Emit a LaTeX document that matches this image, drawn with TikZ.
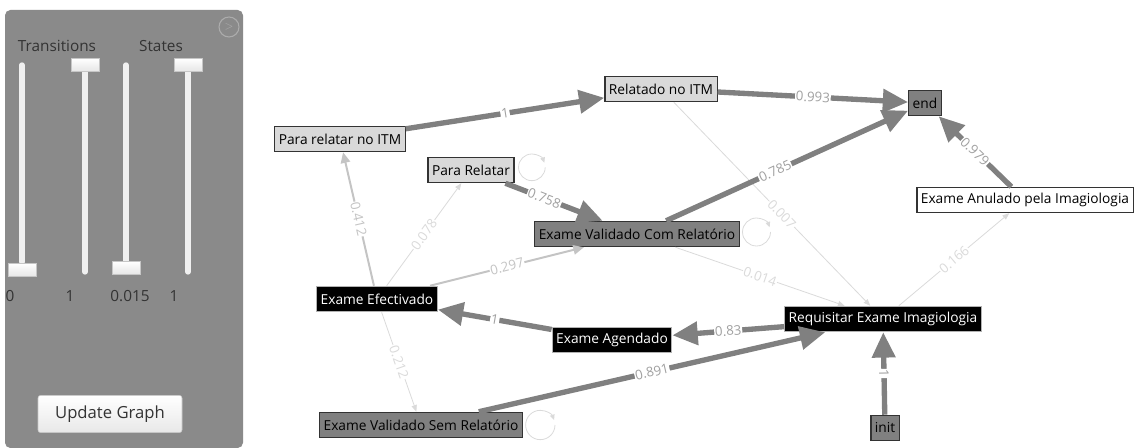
\documentclass[tikz,border=0pt]{standalone}
\usepackage{fontspec}
\setmainfont{Open Sans}
\usetikzlibrary{positioning,arrows.meta}

\definecolor{panelgray}{HTML}{8A8A8A}
\definecolor{edgegray}{HTML}{808080}
\definecolor{lightedge}{HTML}{C4C4C4}
\definecolor{faintedge}{HTML}{DADADA}
\definecolor{labelgray}{HTML}{A0A0A0}
\definecolor{boxlight}{HTML}{D9D9D9}
\definecolor{boxdark}{HTML}{808080}

\begin{document}
\begin{tikzpicture}[x=0.75pt, y=-0.75pt,
  state/.style={draw=black!80, line width=0.9pt, minimum height=19pt, inner xsep=3pt, inner ysep=2pt, font=\fontsize{10.3}{12}\selectfont},
  lightbox/.style={state, fill=boxlight},
  darkbox/.style={state, fill=boxdark},
  blackbox/.style={state, fill=black, draw=gray!60, text=white},
  whitebox/.style={state, fill=white},
  heavy/.style={draw=edgegray, line width=4pt, -{Triangle[length=19pt,width=17pt]}},
  medium/.style={draw=lightedge, line width=1.5pt, -{Triangle[length=8pt,width=7pt]}},
  faint/.style={draw=faintedge, line width=0.6pt, -{Triangle[length=5pt,width=4pt]}},
  elabel/.style={fill=white, inner sep=0.6pt, sloped, font=\fontsize{10}{11}\selectfont, text=labelgray},
  flabel/.style={elabel, text=faintedge},
  selfloop/.style={draw=faintedge, line width=0.6pt, -{Triangle[length=4pt,width=3.5pt]}},
  track/.style={draw=gray!12, line width=4pt, line cap=round},
  thumb/.style={draw=gray!45, top color=white, bottom color=gray!20, minimum width=21pt, minimum height=10pt, inner sep=0pt},
  paneltext/.style={text=black!80, font=\fontsize{11.5}{13}\selectfont},
]
\useasboundingbox (0,0) rectangle (1138,448);
% Panel
\fill[panelgray, rounded corners=4pt] (5,448) -- (5,10) -- (243,10) -- (243,448) -- cycle;
\node[circle, draw=gray!65, line width=0.8pt, minimum size=15pt, inner sep=0pt, text=gray!65, font=\fontsize{8}{8}\selectfont] (collapse) at (229,27) {$>$};
\node[paneltext] (transLabel) at (57,46) {Transitions};
\node[paneltext] (statesLabel) at (161,46) {States};
\draw[track] (22,65) -- (22,262);
\draw[track] (85,70) -- (85,272);
\draw[track] (126,65) -- (126,262);
\draw[track] (188,70) -- (188,272);
\node[thumb] (thumbA) at (22,270) {};
\node[thumb] (thumbB) at (85,65) {};
\node[thumb] (thumbC) at (126,268) {};
\node[thumb] (thumbD) at (188,65) {};
\node[paneltext] (valA) at (10,296) {0};
\node[paneltext] (valB) at (70,296) {1};
\node[paneltext] (valC) at (130,296) {0.015};
\node[paneltext] (valD) at (174,296) {1};
\node[draw=gray!45, rounded corners=2pt, top color=white, bottom color=gray!18, minimum width=108pt, minimum height=28pt, text=black!80, font=\fontsize{12.5}{14}\selectfont] (update) at (110,414) {Update Graph};
% Nodes
\node[lightbox] (relatadoITM) at (661,89) {Relatado no ITM};
\node[darkbox] (end) at (925,103) {end};
\node[lightbox] (paraITM) at (340,139) {Para relatar no ITM};
\node[lightbox] (paraRelatar) at (471,170) {Para Relatar};
\node[darkbox] (validadoCom) at (637,234) {Exame Validado Com Relatório};
\node[whitebox] (anulado) at (1025,200) {Exame Anulado pela Imagiologia};
\node[blackbox] (efectivado) at (377,299) {Exame Efectivado};
\node[blackbox] (agendado) at (612,340) {Exame Agendado};
\node[blackbox] (requisitar) at (883,319) {Requisitar Exame Imagiologia};
\node[darkbox] (validadoSem) at (421,425) {Exame Validado Sem Relatório};
\node[darkbox] (init) at (885,428) {init};
% Lines
\draw[faint] (relatadoITM) -- node[flabel, pos=0.55] {0.007} (requisitar);
\draw[faint] (validadoCom) -- node[flabel] {0.014} (requisitar);
\draw[faint] (requisitar) -- node[flabel] {0.166} (anulado);
\draw[faint] (efectivado) -- node[flabel] {0.078} (paraRelatar);
\draw[faint] (efectivado) -- node[flabel] {0.212} (validadoSem);
\draw[medium] (efectivado) -- node[elabel, text=lightedge] {0.412} (paraITM);
\draw[medium] (efectivado) -- node[elabel, text=lightedge] {0.297} (validadoCom);
\draw[heavy] (paraITM) -- node[elabel] {1} (relatadoITM);
\draw[heavy] (relatadoITM) -- node[elabel] {0.993} (end);
\draw[heavy] (validadoCom) -- node[elabel, pos=0.45] {0.785} (end);
\draw[heavy] (anulado) -- node[elabel] {0.979} (end);
\draw[heavy] (paraRelatar) -- node[elabel, pos=0.4] {0.758} (validadoCom);
\draw[heavy] (agendado) -- node[elabel] {1} (efectivado);
\draw[heavy] (requisitar) -- node[elabel] {0.83} (agendado);
\draw[heavy] (validadoSem) -- node[elabel] {0.891} (requisitar);
\draw[heavy] (init) -- node[elabel] {1} (requisitar);
% Loops
\draw[selfloop] ([xshift=23pt,yshift=2pt]paraRelatar.east) arc[start angle=0, end angle=-340, radius=10pt];
\draw[selfloop] ([xshift=23pt,yshift=1.5pt]validadoCom.east) arc[start angle=0, end angle=-340, radius=10.5pt];
\draw[selfloop] ([xshift=24pt]validadoSem.east) arc[start angle=0, end angle=-340, radius=11pt];
\end{tikzpicture}
\end{document}
